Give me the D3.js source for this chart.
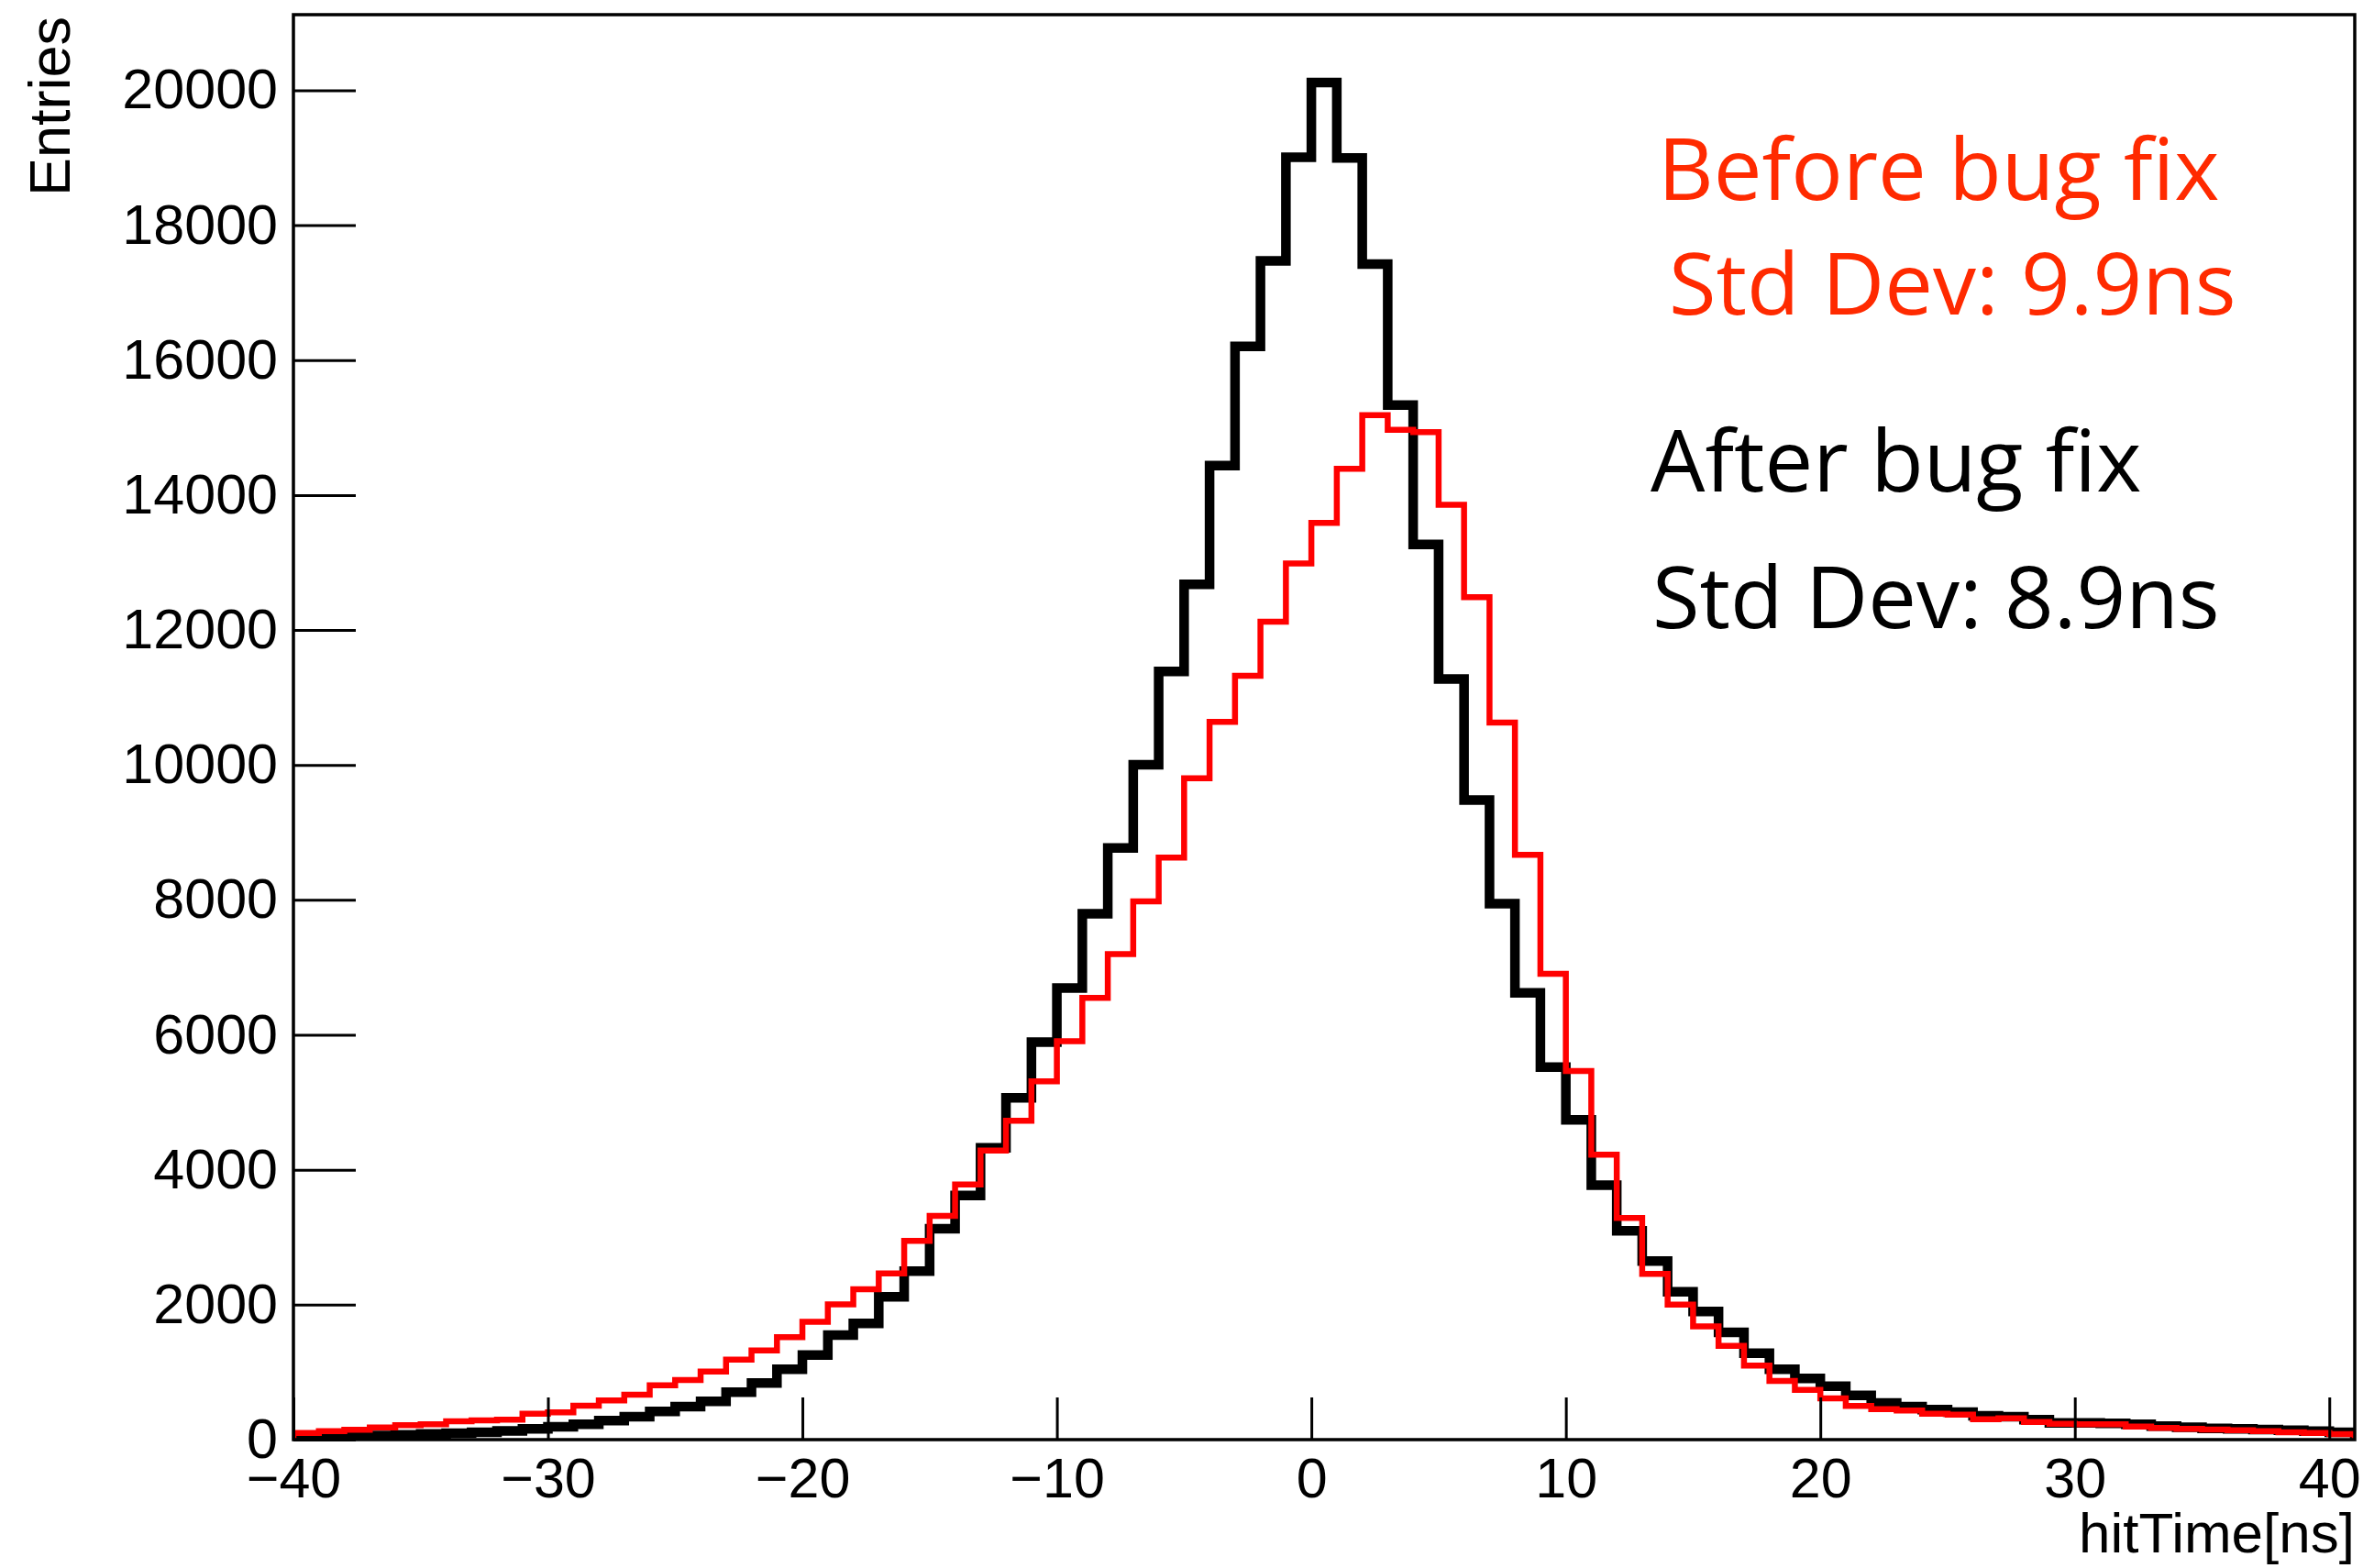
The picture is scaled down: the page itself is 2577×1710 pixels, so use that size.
<!DOCTYPE html>
<html>
<head>
<meta charset="utf-8">
<script src="https://cdn.jsdelivr.net/npm/d3@7"></script>
<style>
  body { margin: 0; background: #fff; }
  svg { display: block; }
</style>
</head>
<body>
<svg id="chart" width="2577" height="1710"></svg>
<script>
// hitTime histograms, 1 ns bins from -40 to 41

const binLow = d3.range(-40, 41, 1);

// after bug fix (black)
const afterFix = [
  30, 40, 50, 60, 70, 85, 95, 110, 130, 160,
  190, 227, 281, 340, 417, 489, 567, 703, 839, 1043,
  1255, 1550, 1723, 2117, 2499, 3127, 3620, 4324, 5067, 5892,
  6694, 7795, 8768, 10003, 11385, 12677, 14436, 16204, 17472, 19005,
  20114, 18995, 17422, 15333, 13267, 11272, 9481, 7945, 6622, 5520,
  4741, 3771, 3096, 2647, 2190, 1900, 1590, 1282, 1043, 907,
  793, 657, 544, 489, 444, 408, 354, 340, 295, 249,
  249, 240, 227, 200, 185, 165, 160, 150, 140, 125,
  110
];

// before bug fix (red)
const beforeFix = [
  100, 127, 145, 181, 213, 227, 272, 286, 295, 385,
  403, 503, 580, 666, 806, 884, 1010, 1187, 1323, 1518,
  1745, 2003, 2230, 2465, 2946, 3315, 3780, 4283, 4727, 5312,
  5905, 6549, 7197, 7977, 8628, 9804, 10637, 11322, 12124, 12985,
  13588, 14390, 15183, 14966, 14934, 13855, 12486, 10629, 8668, 6903,
  5462, 4225, 3286, 2457, 2000, 1680, 1390, 1097, 870, 738,
  612, 499, 453, 431, 385, 371, 303, 317, 262, 235,
  227, 227, 195, 172, 158, 150, 140, 125, 110, 100,
  82
];

const xMajor = [-40, -30, -20, -10, 0, 10, 20, 30, 40];
const xMinor = d3.range(-40, 41, 2);
const yMajor = [0, 2000, 4000, 6000, 8000, 10000, 12000, 14000, 16000, 18000, 20000];
const yMinor = d3.range(0, 21001, 500);

const notes = [
  { text: 'Before bug fix', x: 1808, y: 218, color: '#ff2a00' },
  { text: 'Std Dev: 9.9ns', x: 1820, y: 343, color: '#ff2a00' },
  { text: 'After bug fix', x: 1800, y: 536, color: '#000' },
  { text: 'Std Dev: 8.9ns', x: 1802, y: 685, color: '#000' }
];

const svg = d3.select('#chart');
const frame = { left: 320, right: 2568, top: 16, bottom: 1570 };
const labelFont = '"Liberation Sans", Arial, Helvetica, sans-serif';

const x = d3.scaleLinear().domain([-40, 41]).range([frame.left, frame.right]);
const y = d3.scaleLinear().domain([0, 21120]).range([frame.bottom, frame.top]);

svg.append('rect').attr('width', 2577).attr('height', 1710).attr('fill', '#fff');

svg.append('defs').append('clipPath').attr('id', 'plot-clip')
  .append('rect').attr('x', frame.left).attr('y', frame.top)
  .attr('width', frame.right - frame.left).attr('height', frame.bottom - frame.top);

// step outline like ROOT's HIST option
function histPath(vals) {
  const last = binLow[binLow.length - 1] + 1;
  const pts = [[binLow[0], 0]];
  vals.forEach((v, i) => pts.push([binLow[i], v]));
  pts.push([last, vals[vals.length - 1]]);
  pts.push([last, 0]);
  return d3.line().x(d => x(d[0])).y(d => y(d[1])).curve(d3.curveStepAfter)(pts);
}

const plot = svg.append('g').attr('clip-path', 'url(#plot-clip)');
plot.append('path').attr('d', histPath(afterFix))
  .attr('fill', 'none').attr('stroke', '#000').attr('stroke-width', 10.5)
  .attr('stroke-linejoin', 'miter');
plot.append('path').attr('d', histPath(beforeFix))
  .attr('fill', 'none').attr('stroke', '#ff0000').attr('stroke-width', 6.5)
  .attr('stroke-linejoin', 'miter');

// --- Axes ---
const fmt = d => (d < 0 ? '\u2212' + Math.abs(d) : String(d));

const gx = svg.append('g').attr('transform', `translate(0,${frame.bottom})`);
gx.call(d3.axisBottom(x).tickValues(xMinor).tickSize(-23).tickFormat(''));
gx.call(d3.axisBottom(x).tickValues(xMajor).tickSize(-46).tickPadding(20).tickFormat(fmt));

const gy = svg.append('g').attr('transform', `translate(${frame.left},0)`);
gy.call(d3.axisLeft(y).tickValues(yMinor).tickSize(-34).tickFormat(''));
gy.call(d3.axisLeft(y).tickValues(yMajor).tickSize(-68).tickPadding(17).tickFormat(d3.format('d')));

svg.selectAll('.domain').remove();
svg.selectAll('.tick line').attr('stroke', '#000').attr('stroke-width', 3);
svg.selectAll('.tick text').attr('fill', '#000')
  .style('font-family', labelFont).style('font-size', '61px');

// frame box
svg.append('rect').attr('x', frame.left).attr('y', frame.top)
  .attr('width', frame.right - frame.left).attr('height', frame.bottom - frame.top)
  .attr('fill', 'none').attr('stroke', '#000').attr('stroke-width', 3.5);

// axis titles
svg.append('text').text('hitTime[ns]')
  .attr('x', frame.right).attr('y', 1693).attr('text-anchor', 'end')
  .style('font-family', labelFont).style('font-size', '62px');

svg.append('text').text('Entries')
  .attr('transform', 'translate(76,18) rotate(-90)').attr('text-anchor', 'end')
  .style('font-family', labelFont).style('font-size', '63px');

// --- Annotations ---
svg.selectAll('.note').data(notes).join('text')
  .attr('class', 'note')
  .attr('x', d => d.x).attr('y', d => d.y)
  .attr('fill', d => d.color)
  .style('font-family', '"Open Sans", "Noto Sans", sans-serif')
  .style('font-size', '94px')
  .text(d => d.text);
</script>
</body>
</html>
